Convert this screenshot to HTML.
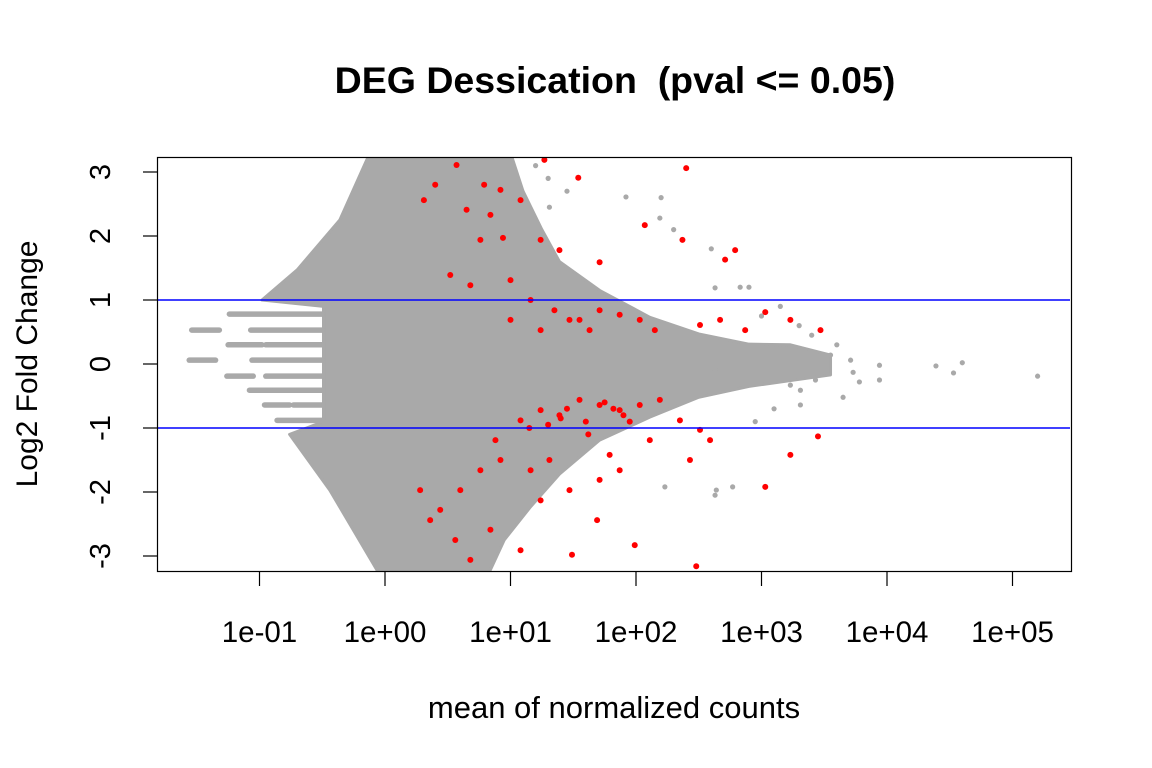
<!DOCTYPE html>
<html><head><meta charset="utf-8"><style>
body{margin:0;background:#fff;}
svg{display:block;font-family:"Liberation Sans",sans-serif;}
</style></head><body>
<svg id="chart" width="1152" height="768">
<text x="615" y="93" text-anchor="middle" font-size="37.5" font-weight="bold" style="white-space:pre">DEG Dessication  (pval &lt;= 0.05)</text>
<text x="614" y="718" text-anchor="middle" font-size="31">mean of normalized counts</text>
<text transform="translate(37,364) rotate(-90)" text-anchor="middle" font-size="30">Log2 Fold Change</text>
<defs><clipPath id="clip"><rect x="158" y="158" width="912" height="413"/></clipPath></defs>
<g id="plot" clip-path="url(#clip)"></g>
<g id="axes"></g>
<rect x="157.5" y="157.5" width="914" height="414" fill="none" stroke="#000" stroke-width="1.2"/>
</svg>
<script>
// data (x values as log10 of mean counts, y as log2 fold change)
const xTicks=[-1,0,1,2,3,4,5];
const xTickLabels=["1e-01","1e+00","1e+01","1e+02","1e+03","1e+04","1e+05"];
const yTicks=[-3,-2,-1,0,1,2,3];
const hLines=[1,-1];
const envUpper=[[-0.49,0.9],[-0.98,1.0],[-0.7,1.47],[-0.36,2.25],[-0.12,3.3],[1.0,3.3],[1.1,2.7],[1.25,2.1],[1.39,1.6],[1.71,1.15],[2.11,0.73],[2.5,0.47],[2.9,0.31],[3.23,0.3],[3.55,0.14]];
const envLower=[[3.55,-0.17],[2.9,-0.35],[2.5,-0.52],[2.11,-0.83],[1.71,-1.19],[1.39,-1.72],[1.16,-2.23],[0.95,-2.75],[0.82,-3.3],[-0.04,-3.3],[-0.44,-1.97],[-0.76,-1.1],[-0.49,-0.9]];
const stripeLfc=[0.78,0.53,0.53,0.30,0.30,0.06,0.06,-0.19,-0.19,-0.41,-0.41,-0.64,-0.64,-0.88];
const stripeStart=[-1.24,-1.54,-1.07,-1.25,-0.95,-1.56,-1.06,-1.26,-0.95,-1.08,-0.88,-0.96,-0.73,-0.86];
const stripeEnd=[-0.5,-1.32,-0.5,-0.98,-0.5,-1.35,-0.5,-1.05,-0.5,-0.88,-0.5,-0.76,-0.5,-0.5];
const grayX=[3.55,3.71,3.94,3.78,4.39,4.60,4.53,5.20,3.94,3.43,3.31,3.65,2.63,3.6,3.3,2.9,2.2,2.3,2.6,1.92,2.19,1.31,1.27,2.63,2.83,2.63,3.31,3.23,3.73,2.77,2.64,2.23,1.71,3.0,3.1,3.4,2.95,3.15,1.2,1.3,1.45];
const grayY=[0.14,0.06,-0.02,-0.28,-0.03,0.02,-0.14,-0.19,-0.25,-0.25,-0.41,-0.52,-2.05,0.3,0.6,1.2,2.6,2.1,1.8,2.61,2.28,2.45,1.92,1.19,1.2,-0.09,-0.64,-0.33,-0.13,-1.92,-1.97,-1.92,-1.81,0.75,-0.7,0.45,-0.9,0.9,3.1,2.9,2.7];
const redX=[0.57,0.40,0.79,0.92,1.27,1.54,2.40,0.31,0.65,0.84,1.08,0.76,0.94,1.24,1.39,2.07,2.37,2.71,2.79,1.71,0.68,1.00,1.16,1.35,1.55,1.71,1.87,2.03,2.15,2.51,2.67,2.87,3.03,3.23,3.47,1.00,1.24,1.47,1.63,0.52,
0.88,1.08,1.24,1.39,1.55,1.71,1.87,2.03,2.19,2.35,2.51,0.92,0.76,0.60,0.44,0.56,0.84,1.08,1.24,1.47,1.71,1.87,2.11,2.43,2.59,3.03,3.23,3.45,1.99,1.69,1.49,2.48,0.28,0.36,0.68,1.31,1.79,1.16,1.3,1.45,1.6,1.75,1.9,1.15,1.4,1.62,1.82,1.95];
const redY=[3.11,2.80,2.80,2.72,3.19,2.91,3.06,2.56,2.41,2.33,2.56,1.94,1.97,1.94,1.78,2.17,1.94,1.63,1.78,1.59,1.23,1.31,1.00,0.84,0.69,0.84,0.77,0.69,0.53,0.61,0.69,0.53,0.81,0.69,0.53,0.69,0.53,0.69,0.53,1.39,
-1.19,-0.88,-0.72,-0.80,-0.56,-0.64,-0.72,-0.64,-0.56,-0.88,-1.03,-1.50,-1.66,-1.97,-2.28,-2.75,-2.59,-2.91,-2.13,-1.97,-1.81,-1.66,-1.19,-1.50,-1.19,-1.92,-1.42,-1.13,-2.83,-2.44,-2.98,-3.16,-1.97,-2.44,-3.06,-1.50,-1.42,-1.66,-0.95,-0.7,-0.9,-0.6,-0.8,-1.0,-0.85,-1.1,-0.7,-0.9];

const NS="http://www.w3.org/2000/svg";
const sx=v=>385+125.5*v;
const sy=v=>364-64*v;
const plot=document.getElementById('plot'), axes=document.getElementById('axes');
function mk(tag,attrs,parent){const e=document.createElementNS(NS,tag);for(const k in attrs)e.setAttribute(k,attrs[k]);parent.appendChild(e);return e;}

const pts=envUpper.concat(envLower).map(p=>sx(p[0])+","+sy(p[1])).join(" ");
const poly=mk('polygon',{points:pts,fill:'#a9a9a9',stroke:'#a9a9a9','stroke-width':3,'stroke-linejoin':'round'},plot);


stripeLfc.forEach((v,i)=>{
  const l=mk('line',{x1:sx(stripeStart[i]),x2:sx(stripeEnd[i]),y1:sy(v),y2:sy(v),stroke:'#a9a9a9','stroke-width':5.5,'stroke-linecap':'round'},plot);
  
  
});
grayX.forEach((v,i)=>{
  const c=mk('circle',{cx:sx(v),cy:sy(grayY[i]),r:2.6,fill:'#a9a9a9'},plot);
  
  
});
redX.forEach((v,i)=>{
  const c=mk('circle',{cx:sx(v),cy:sy(redY[i]),r:3,fill:'#ff0000'},plot);
  
  
});
hLines.forEach(v=>{
  const l=mk('line',{x1:158,x2:1071,y1:sy(v),y2:sy(v),stroke:'#0000ff','stroke-width':1.5},plot);
  
  
});
xTicks.forEach((v,i)=>{
  const x=sx(v);
  const t=mk('line',{x1:x,x2:x,y1:572,y2:586,stroke:'#000','stroke-width':1.2},axes);
  
  
  const tx=mk('text',{x:x,y:642,'text-anchor':'middle','font-size':29.5},axes);
  tx.textContent=xTickLabels[i];
  
  
});
yTicks.forEach(v=>{
  const y=sy(v);
  const t=mk('line',{x1:143,x2:157,y1:y,y2:y,stroke:'#000','stroke-width':1.2},axes);
  
  
  const tx=mk('text',{'text-anchor':'middle','font-size':29,transform:`translate(110,${y}) rotate(-90)`},axes);
  tx.textContent=String(v);
  
  
});
</script>
</body></html>
